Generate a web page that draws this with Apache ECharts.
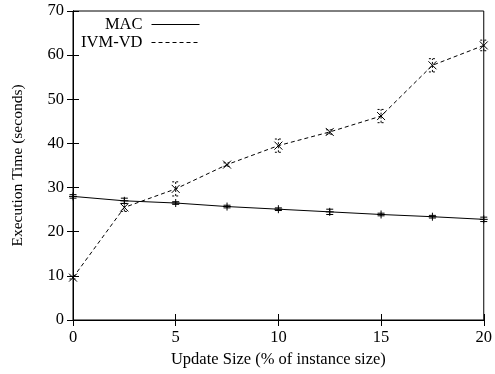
<!DOCTYPE html>
<html>
<head>
<meta charset="utf-8">
<script src="https://cdn.jsdelivr.net/npm/echarts@6/dist/echarts.min.js"></script>
<style>
  html, body { margin: 0; padding: 0; background: #fff; }
  #chart { width: 495px; height: 374px; }
</style>
</head>
<body>
<div id="chart"></div>
<script>
// Update sizes (% of instance size)
const updateSize = [0, 2.5, 5, 7.5, 10, 12.5, 15, 17.5, 20];
// Execution times (seconds) and error half-widths
const macTime = [28.0, 27.0, 26.5, 25.7, 25.1, 24.5, 23.9, 23.4, 22.8];
const macErr  = [0.4, 0.6, 0.3, 0.3, 0.3, 0.6, 0.3, 0.3, 0.5];
const ivmTime = [9.6, 25.5, 29.7, 35.2, 39.5, 42.6, 46.2, 57.7, 62.2];
const ivmErr  = [0.3, 0.9, 1.6, 0.4, 1.5, 0.5, 1.5, 1.5, 1.2];

const FONT = 'Liberation Serif';
const DASH = [4, 3];
const points = (ys) => updateSize.map((x, i) => [x, ys[i]]);
const errPoints = (ys, es) => updateSize.map((x, i) => [x, ys[i], es[i]]);

// Error bar with caps plus the point marker ('+' or 'x')
function errorBarRenderer(dashed, marker) {
  return function (params, api) {
    const x = api.value(0), y = api.value(1), e = api.value(2);
    const c = api.coord([x, y]);
    const lo = api.coord([x, y - e]);
    const hi = api.coord([x, y + e]);
    const cap = 3.5;
    const barStyle = { stroke: '#000', lineWidth: 1, lineDash: dashed ? [2, 2] : null };
    const mk = { stroke: '#000', lineWidth: 1 };
    const children = [
      { type: 'line', shape: { x1: lo[0], y1: lo[1], x2: hi[0], y2: hi[1] }, style: barStyle },
      { type: 'line', shape: { x1: lo[0] - cap, y1: lo[1], x2: lo[0] + cap, y2: lo[1] }, style: barStyle },
      { type: 'line', shape: { x1: hi[0] - cap, y1: hi[1], x2: hi[0] + cap, y2: hi[1] }, style: barStyle }
    ];
    const s = 4;
    if (marker === 'plus') {
      children.push({ type: 'line', shape: { x1: c[0] - s, y1: c[1], x2: c[0] + s, y2: c[1] }, style: mk });
      children.push({ type: 'line', shape: { x1: c[0], y1: c[1] - s, x2: c[0], y2: c[1] + s }, style: mk });
    } else {
      children.push({ type: 'line', shape: { x1: c[0] - s, y1: c[1] - s, x2: c[0] + s, y2: c[1] + s }, style: mk });
      children.push({ type: 'line', shape: { x1: c[0] - s, y1: c[1] + s, x2: c[0] + s, y2: c[1] - s }, style: mk });
    }
    return { type: 'group', children: children };
  };
}

const axisLine = { show: true, lineStyle: { color: '#000', width: 1 } };
const tickIn = { show: true, inside: true, length: 6, lineStyle: { color: '#000', width: 1 } };
const labelStyle = { color: '#000', fontFamily: FONT, fontSize: 16.5 };

function legendFor(name, top, dash) {
  return {
    data: [name], top: top,
    orient: 'vertical', align: 'right', right: 295,
    padding: 0, itemWidth: 48, itemHeight: 12, itemGap: 10,
    itemStyle: { opacity: 0 },
    lineStyle: { color: '#000', width: 1, type: dash },
    textStyle: { color: '#000', fontFamily: FONT, fontSize: 16.5, padding: [0, 4, 0, 0] }
  };
}

const chart = echarts.init(document.getElementById('chart'), null, { renderer: 'canvas' });
chart.setOption({
  animation: false,
  backgroundColor: '#fff',
  textStyle: { fontFamily: FONT },
  grid: { left: 73, right: 11, top: 11, bottom: 54, show: true, borderColor: '#000', borderWidth: 1 },
  legend: [
    legendFor('MAC', 16, 'solid'),
    legendFor('IVM-VD', 34, DASH)
  ],
  xAxis: [
    {
      type: 'value', min: 0, max: 20, interval: 5, position: 'bottom',
      name: 'Update Size (% of instance size)', nameLocation: 'middle', nameGap: 29,
      nameTextStyle: labelStyle,
      axisLine: axisLine, axisTick: tickIn, splitLine: { show: false },
      axisLabel: Object.assign({ margin: 9 }, labelStyle)
    },
    {
      type: 'value', min: 0, max: 20, interval: 5, position: 'top',
      axisLine: axisLine, axisTick: tickIn, splitLine: { show: false },
      axisLabel: { show: false }
    }
  ],
  yAxis: [
    {
      type: 'value', min: 0, max: 70, interval: 10, position: 'left',
      name: 'Execution Time (seconds)', nameLocation: 'middle', nameGap: 47,
      nameTextStyle: Object.assign({}, labelStyle, { fontSize: 15.5 }),
      axisLine: axisLine, axisTick: tickIn, splitLine: { show: false },
      axisLabel: Object.assign({ margin: 9 }, labelStyle)
    },
    {
      type: 'value', min: 0, max: 70, interval: 10, position: 'right',
      axisLine: axisLine, axisTick: tickIn, splitLine: { show: false },
      axisLabel: { show: false }
    }
  ],
  series: [
    {
      name: 'MAC', type: 'line', data: points(macTime),
      symbol: 'none', showSymbol: false,
      lineStyle: { color: '#000', width: 1, type: 'solid' },
      itemStyle: { color: '#000' }
    },
    {
      name: 'IVM-VD', type: 'line', data: points(ivmTime),
      symbol: 'none', showSymbol: false,
      lineStyle: { color: '#000', width: 1, type: DASH },
      itemStyle: { color: '#000' }
    },
    {
      type: 'custom', name: 'MAC error', data: errPoints(macTime, macErr),
      renderItem: errorBarRenderer(false, 'plus'), clip: false, z: 5
    },
    {
      type: 'custom', name: 'IVM-VD error', data: errPoints(ivmTime, ivmErr),
      renderItem: errorBarRenderer(true, 'cross'), clip: false, z: 5
    }
  ]
});
</script>
</body>
</html>
